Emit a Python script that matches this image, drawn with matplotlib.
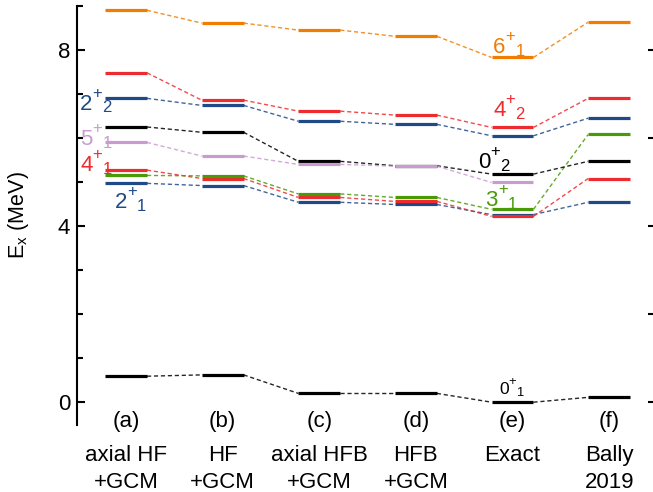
import matplotlib
matplotlib.use("Agg")
import matplotlib.pyplot as plt
from matplotlib.transforms import offset_copy

plt.rcParams['font.family'] = ['Liberation Sans', 'DejaVu Sans']
plt.rcParams['mathtext.fontset'] = 'custom'
plt.rcParams['mathtext.rm'] = 'Liberation Sans'
plt.rcParams['mathtext.it'] = 'Liberation Sans:italic'

# columns
col_tags = ['(a)', '(b)', '(c)', '(d)', '(e)', '(f)']
col_line1 = ['axial HF', 'HF', 'axial HFB', 'HFB', 'Exact', 'Bally']
col_line2 = ['+GCM', '+GCM', '+GCM', '+GCM', '', '2019']

# level energies (MeV) per state, across the six columns
e_0p1 = [0.59, 0.62, 0.20, 0.20, 0.00, 0.11]
e_2p1 = [4.97, 4.92, 4.54, 4.49, 4.26, 4.54]
e_4p1 = [5.27, 5.08, 4.65, 4.56, 4.22, 5.08]
e_3p1 = [5.15, 5.14, 4.73, 4.65, 4.38, 6.08]
e_0p2 = [6.25, 6.13, 5.47, 5.37, 5.18, 5.47]
e_5p1 = [5.90, 5.59, 5.40, 5.36, 4.99, None]
e_2p2 = [6.90, 6.74, 6.38, 6.31, 6.05, 6.45]
e_4p2 = [7.48, 6.86, 6.61, 6.52, 6.24, 6.90]
e_6p1 = [8.90, 8.61, 8.45, 8.31, 7.83, 8.63]

c_orange = '#F27C00'
c_red = '#EE2B2E'
c_blue = '#1F4A87'
c_green = '#4A9A08'
c_pink = '#C99CD0'
c_black = '#000000'

series = [
    (e_0p1, c_black),
    (e_2p1, c_blue),
    (e_4p1, c_red),
    (e_3p1, c_green),
    (e_0p2, c_black),
    (e_5p1, c_pink),
    (e_2p2, c_blue),
    (e_4p2, c_red),
    (e_6p1, c_orange),
]

fig = plt.figure(figsize=(6.53, 4.92), dpi=100)
ax = fig.add_axes([0.118, 0.136, 0.874, 0.852])
hw = 0.217

for vals, col in series:
    pts = [(i, v) for i, v in enumerate(vals) if v is not None]
    for i, v in pts:
        ax.plot([i - hw, i + hw], [v, v], color=col, lw=2.3, solid_capstyle='butt', zorder=3)
    for (i0, v0), (i1, v1) in zip(pts[:-1], pts[1:]):
        ax.plot([i0 + hw, i1 - hw], [v0, v1], color=col, lw=1.0, dashes=(3, 2), alpha=0.85, zorder=2)


def state_label(x, y, j, n, color, size=16):
    ax.text(x, y, j, color=color, fontsize=size, ha='left', va='baseline')
    tp = offset_copy(ax.transData, fig=fig, x=0.56 * size, y=0.55 * size, units='points')
    ax.text(x, y, '+', color=color, fontsize=0.75 * size, ha='left', va='baseline', transform=tp)
    ts = offset_copy(ax.transData, fig=fig, x=1.0 * size, y=-0.12 * size, units='points')
    ax.text(x, y, n, color=color, fontsize=0.75 * size, ha='left', va='baseline', transform=ts)


# state labels
state_label(-0.476, 6.64, '2', '2', c_blue)
state_label(-0.476, 5.84, '5', '1', c_pink)
state_label(-0.476, 5.25, '4', '1', c_red)
state_label(-0.114, 4.41, '2', '1', c_blue)
state_label(3.80, 7.93, '6', '1', c_orange)
state_label(3.80, 6.50, '4', '2', c_red)
state_label(3.64, 5.32, '0', '2', c_black)
state_label(3.72, 4.45, '3', '1', c_green)
state_label(3.86, 0.18, '0', '1', c_black, size=12.5)

# column labels
for i in range(len(col_tags)):
    ax.text(i, -0.57, col_tags[i], ha='center', va='baseline', fontsize=16, clip_on=False)
    ax.text(i, -1.33, col_line1[i], ha='center', va='baseline', fontsize=16, clip_on=False)
    if col_line2[i]:
        ax.text(i, -1.95, col_line2[i], ha='center', va='baseline', fontsize=16, clip_on=False)

ax.set_xlim(-0.507, 5.40)
ax.set_ylim(-0.52, 9.0)
ax.set_yticks([0, 4, 8])
ax.set_yticks([1, 2, 3, 5, 6, 7, 9], minor=True)
ax.tick_params(axis='y', which='major', direction='in', length=6, width=1.5, labelsize=16, pad=5)
ax.tick_params(axis='y', which='minor', direction='in', length=4, width=1.5)
ax.set_xticks([])
for s in ['top', 'right', 'bottom']:
    ax.spines[s].set_visible(False)
ax.spines['left'].set_linewidth(1.5)
ax.set_ylabel(r'E$_\mathregular{x}$ (MeV)', fontsize=15.5)
ax.yaxis.set_label_coords(-0.08, 0.5)

ax2 = ax.twinx()
ax2.set_ylim(ax.get_ylim())
ax2.set_yticks([0, 2, 4, 6, 8])
ax2.set_yticklabels([])
ax2.tick_params(axis='y', direction='out', length=5, width=1.5)
for s in ['top', 'right', 'bottom', 'left']:
    ax2.spines[s].set_visible(False)

fig.savefig('out.png', dpi=100)
